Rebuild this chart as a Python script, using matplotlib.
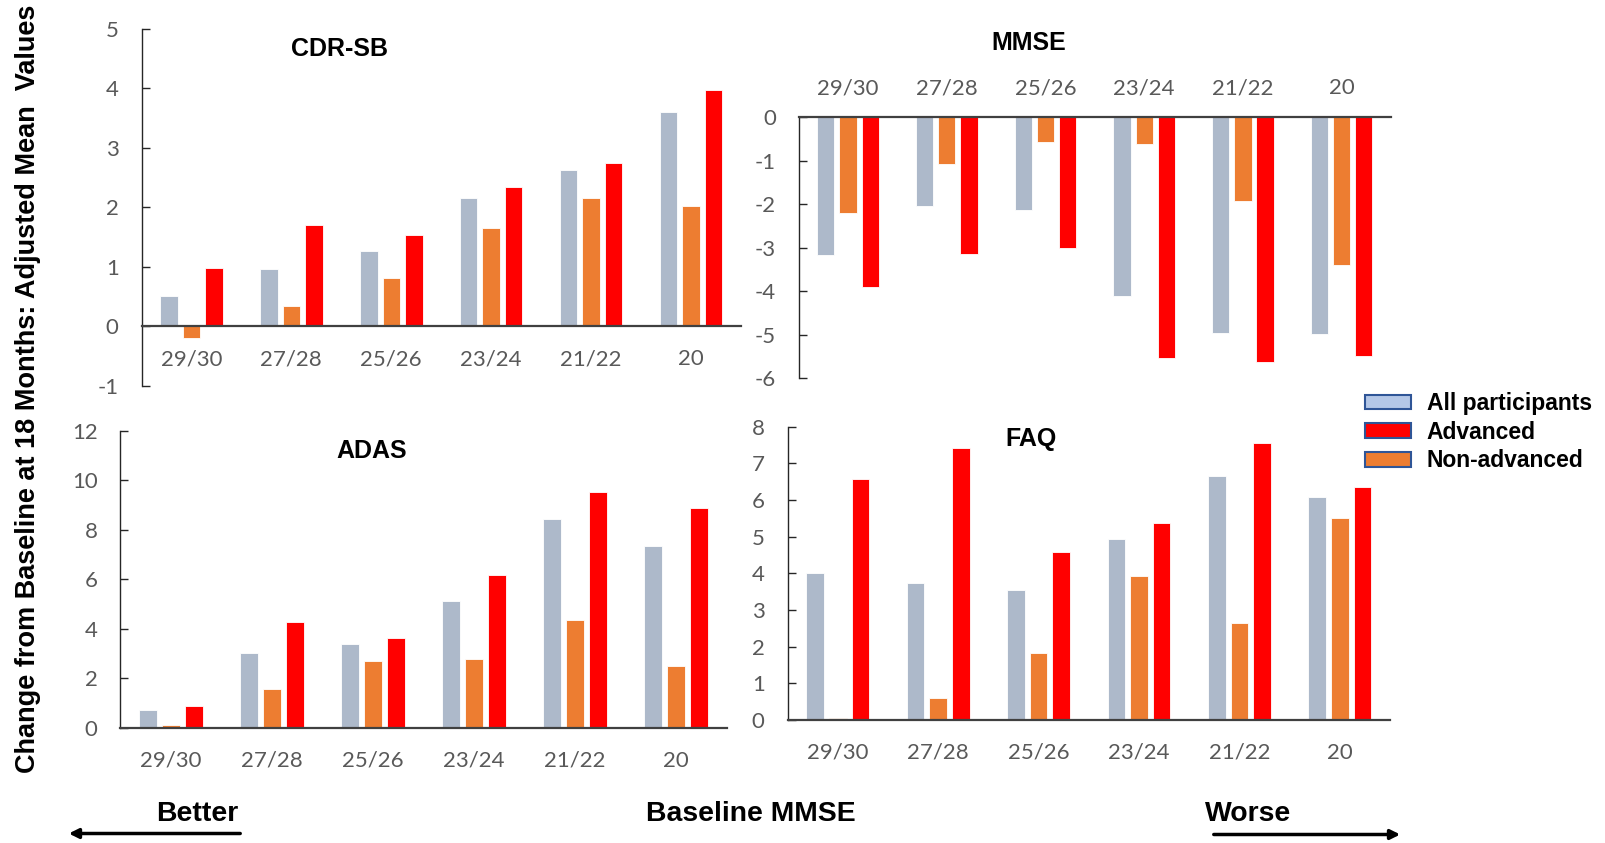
import matplotlib
matplotlib.use('Agg')
import matplotlib.pyplot as plt
import numpy as np
from matplotlib.patches import Patch, FancyArrowPatch

# figure size in pixels (dpi 100)
W, H = 1606, 843

groups = ['29/30', '27/28', '25/26', '23/24', '21/22', '20']

# bar order inside each group: all participants, non-advanced, advanced
cdr_all = [0.51, 0.97, 1.27, 2.15, 2.62, 3.61]
cdr_non = [-0.20, 0.34, 0.82, 1.66, 2.16, 2.02]
cdr_adv = [0.98, 1.70, 1.53, 2.34, 2.74, 3.97]

mmse_all = [-3.18, -2.04, -2.13, -4.12, -4.97, -4.99]
mmse_non = [-2.20, -1.07, -0.57, -0.62, -1.93, -3.40]
mmse_adv = [-3.90, -3.14, -3.01, -5.53, -5.62, -5.48]

adas_all = [0.70, 3.00, 3.39, 5.12, 8.43, 7.34]
adas_non = [0.11, 1.55, 2.69, 2.79, 4.36, 2.48]
adas_adv = [0.87, 4.27, 3.64, 6.17, 9.54, 8.86]

faq_all = [4.00, 3.73, 3.55, 4.94, 6.65, 6.07]
faq_non = [0.05, 0.60, 1.83, 3.92, 2.65, 5.51]
faq_adv = [6.58, 7.42, 4.57, 5.38, 7.55, 6.35]

legend_labels = ['All participants', 'Advanced', 'Non-advanced']

BAR_COLORS = ['#ADB9CA', '#ED7D31', '#FF0000']
LEG_COLORS = ['#B4C7E7', '#FF0000', '#ED7D31']
TICK_GREY = '#595959'


def px_box(left, top, right, bottom):
	return [left / W, 1 - bottom / H, (right - left) / W, (bottom - top) / H]


def fx(x):
	return x / W


def fy(y):
	return 1 - y / H


def draw_panel(fig, box, series, ylim, ystep, top_axis=False, zero_axis=False):
	ax = fig.add_axes(box)
	x = np.arange(len(groups))
	for j, vals in enumerate(series):
		ax.bar(x + (j - 1) * 0.225, vals, width=0.175, color=BAR_COLORS[j],
			   edgecolor='white', linewidth=0.6, zorder=2)
	ax.set_xlim(-0.5, len(groups) - 0.5)
	ax.set_ylim(ylim)
	ax.set_yticks(np.arange(ylim[0], ylim[1] + ystep / 2, ystep))
	ax.set_xticks(x, groups)

	ax.spines['right'].set_visible(False)
	ax.spines['left'].set_color('#262626')
	ax.spines['left'].set_linewidth(1.0)
	if top_axis:
		ax.spines['bottom'].set_visible(False)
		ax.spines['top'].set_color('#404040')
		ax.spines['top'].set_linewidth(1.6)
		ax.xaxis.tick_top()
		ax.tick_params(axis='x', length=0, pad=13.5, labelsize=16, labelcolor=TICK_GREY)
	else:
		ax.spines['top'].set_visible(False)
		ax.spines['bottom'].set_color('#404040')
		ax.spines['bottom'].set_linewidth(1.6)
		if zero_axis:
			ax.spines['bottom'].set_position(('data', 0))
		ax.tick_params(axis='x', length=0, pad=16.5, labelsize=16, labelcolor=TICK_GREY)
	ax.tick_params(axis='y', direction='in', length=5.5, width=1, color='#262626',
				   pad=16.5, labelsize=16, labelcolor=TICK_GREY)
	for lab in ax.get_xticklabels() + ax.get_yticklabels():
		lab.set_family('Lato')
	return ax


def main():
	plt.rcParams['font.family'] = ['Liberation Sans', 'DejaVu Sans']
	plt.rcParams['axes.unicode_minus'] = False
	fig = plt.figure(figsize=(W / 100, H / 100), dpi=100)

	draw_panel(fig, px_box(141.5, 29, 741, 385.7), [cdr_all, cdr_non, cdr_adv], (-1, 5), 1, zero_axis=True)
	draw_panel(fig, px_box(798.7, 117, 1391, 378.3), [mmse_all, mmse_non, mmse_adv], (-6, 0), 1, top_axis=True)
	draw_panel(fig, px_box(120.5, 430.7, 726.5, 727.7), [adas_all, adas_non, adas_adv], (0, 12), 2)
	draw_panel(fig, px_box(787.6, 426.7, 1390, 720), [faq_all, faq_non, faq_adv], (0, 8), 1)

	# panel titles
	fig.text(fx(340), fy(48.5), 'CDR-SB', fontsize=18, fontweight='bold', ha='center', va='center')
	fig.text(fx(1029), fy(43.5), 'MMSE', fontsize=18, fontweight='bold', ha='center', va='center')
	fig.text(fx(372), fy(450.5), 'ADAS', fontsize=18, fontweight='bold', ha='center', va='center')
	fig.text(fx(1031), fy(438.5), 'FAQ', fontsize=18, fontweight='bold', ha='center', va='center')

	fig.text(fx(28), fy(389), 'Change from Baseline at 18 Months: Adjusted Mean  Values',
			 fontsize=19.5, fontweight='bold', rotation=90, ha='center', va='center')

	# bottom annotation
	fig.text(fx(197), fy(814), 'Better', fontsize=20.4, fontweight='bold', ha='center', va='center')
	fig.text(fx(751), fy(814), 'Baseline MMSE', fontsize=20.4, fontweight='bold', ha='center', va='center')
	fig.text(fx(1248.5), fy(814), 'Worse', fontsize=20.4, fontweight='bold', ha='center', va='center')
	for (x0, x1, y) in [(243, 66, 833.5), (1211, 1403, 834.5)]:
		fig.add_artist(FancyArrowPatch((fx(x0), fy(y)), (fx(x1), fy(y)), transform=fig.transFigure,
									   arrowstyle='-|>', mutation_scale=14, lw=2.5, color='black'))

	handles = [Patch(facecolor=c, edgecolor='#2F5597', linewidth=1.5) for c in LEG_COLORS]
	fig.legend(handles, legend_labels, loc='upper left', bbox_to_anchor=(fx(1365), fy(392)),
			   frameon=False, prop={'size': 16.5, 'weight': 'bold'}, handlelength=2.0,
			   handleheight=0.6, labelspacing=0.25, handletextpad=0.7, borderpad=0, borderaxespad=0)

	fig.savefig('out.png', dpi=100)
	plt.close('all')


if __name__ == '__main__':
	main()
